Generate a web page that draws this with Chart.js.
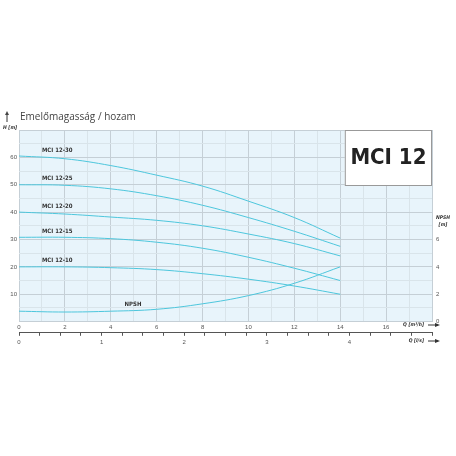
<!DOCTYPE html>
<html>
<head>
<meta charset="UTF-8">
<script src="https://cdn.jsdelivr.net/npm/chart.js"></script>
<style>
  body { margin: 0; background: #fff; }
  #wrap { width: 456px; height: 456px; position: relative; }
</style>
</head>
<body>
<div id="wrap"><canvas id="c"></canvas></div>
<script>
// Q in m3/h
const flow = [0, 2, 4, 6, 8, 10, 12, 14];
const mci1230 = [60.5, 59.5, 57, 53.5, 49.5, 44, 38, 30.5];
const mci1225 = [50, 49.8, 48.5, 46, 42.5, 38, 33, 27.5];
const mci1220 = [40, 39.3, 38.2, 37, 35, 32, 28.5, 24];
const mci1215 = [30.8, 30.8, 30.3, 29, 26.8, 23.5, 19.5, 15];
const mci1210 = [20, 20, 19.7, 19, 17.5, 15.5, 13, 10];
const npsh = [0.76, 0.7, 0.76, 0.9, 1.3, 1.9, 2.8, 4.0];
const curveNames = ['MCI 12-30', 'MCI 12-25', 'MCI 12-20', 'MCI 12-15', 'MCI 12-10'];
const hTicks = [10, 20, 30, 40, 50, 60];
const npshTicks = [0, 2, 4, 6];

const lineCol = '#4dc6dc';
const cond = '"DejaVu Sans Condensed", "DejaVu Sans"';
const pts = arr => flow.map((q, i) => ({ x: q, y: arr[i] }));
const mk = (label, arr, axis) => ({
  label, data: pts(arr), yAxisID: axis, borderColor: lineCol, borderWidth: 1,
  pointRadius: 0, tension: 0.4, fill: false
});

const datasets = [mci1230, mci1225, mci1220, mci1215, mci1210].map((a, i) => mk(curveNames[i], a, 'y'));
datasets.push(mk('NPSH', npsh, 'y2'));

const decor = {
  id: 'decor',
  beforeDraw(chart) {
    const { ctx, chartArea: a } = chart;
    ctx.save();
    ctx.fillStyle = '#e8f4fb';
    ctx.fillRect(a.left, a.top, a.right - a.left, a.bottom - a.top);
    ctx.restore();
  },
  afterDraw(chart) {
    const { ctx, chartArea: a, scales } = chart;
    const x = scales.x, y = scales.y, y2 = scales.y2;
    ctx.save();
    // box
    const bx = x.getPixelForValue(14.2), bw = a.right - bx;
    ctx.fillStyle = '#fff';
    ctx.strokeStyle = '#999';
    ctx.lineWidth = 1;
    ctx.fillRect(bx, a.top, bw, 55);
    ctx.strokeRect(bx + 0.5, a.top + 0.5, bw - 1, 55);
    ctx.fillStyle = '#222';
    ctx.font = 'bold 22px ' + cond;
    ctx.textAlign = 'center'; ctx.textBaseline = 'middle';
    ctx.fillText('MCI 12', bx + bw / 2, a.top + 28);
    // curve labels
    ctx.font = 'bold 6px ' + cond;
    ctx.textAlign = 'left'; ctx.textBaseline = 'bottom';
    ctx.fillStyle = '#333';
    [mci1230, mci1225, mci1220, mci1215, mci1210].forEach((arr, i) => {
      ctx.fillText(curveNames[i], x.getPixelForValue(1), y.getPixelForValue(arr[0]) - 3);
    });
    ctx.fillText('NPSH', x.getPixelForValue(4.6), y2.getPixelForValue(0.85) - 3);
    // title
    ctx.font = '10px "Open Sans"';
    ctx.fillStyle = '#444';
    ctx.textBaseline = 'middle';
    ctx.fillText('Emelőmagasság / hozam', 20, 117);
    ctx.strokeStyle = '#333';
    ctx.beginPath(); ctx.moveTo(7, 122); ctx.lineTo(7, 113); ctx.stroke();
    ctx.beginPath(); ctx.moveTo(5, 115); ctx.lineTo(7, 111); ctx.lineTo(9, 115); ctx.fill();
    ctx.font = 'italic bold 5px ' + cond;
    ctx.fillStyle = '#333';
    ctx.fillText('H [m]', 3, 128);
    ctx.textAlign = 'center';
    ctx.fillText('NPSH', 443, 218);
    ctx.fillText('[m]', 443, 225);
    ctx.textAlign = 'right';
    ctx.fillText('Q [m³/h]', 424, 325);
    ctx.fillText('Q [l/s]', 424, 341);
    // arrows
    [325, 341].forEach(yy => {
      ctx.beginPath(); ctx.moveTo(428, yy); ctx.lineTo(438, yy); ctx.stroke();
      ctx.beginPath(); ctx.moveTo(435, yy - 2); ctx.lineTo(440, yy); ctx.lineTo(435, yy + 2); ctx.fill();
    });
    ctx.restore();
  }
};

new Chart(document.getElementById('c'), {
  type: 'line',
  data: { datasets },
  plugins: [decor],
  options: {
    responsive: true, maintainAspectRatio: false, animation: false,
    layout: { padding: { left: 0, right: 0, top: 130, bottom: 107 } },
    plugins: { legend: { display: false }, tooltip: { enabled: false } },
    scales: {
      x: {
        type: 'linear', min: 0, max: 18,
        ticks: { stepSize: 1, padding: 2, font: { size: 6 }, color: '#555',
          callback: v => (v % 2 === 0 && v < 18) ? v : '' },
        grid: { color: c => c.tick && c.tick.value % 2 === 0 ? '#c5cfd6' : '#d9e4ea', tickLength: 0 },
        border: { display: false }
      },
      xl: {
        type: 'linear', position: 'bottom', min: 0, max: 5,
        ticks: { stepSize: 0.25, padding: 3, font: { size: 6 }, color: '#555',
          callback: v => (v % 1 === 0 && v < 5) ? v : '' },
        grid: { drawOnChartArea: false, tickLength: 3, color: '#555' },
        border: { display: true, color: '#555' }
      },
      y: {
        min: 0, max: 70,
        ticks: { stepSize: 5, padding: 2, font: { size: 6 }, color: '#555',
          callback: v => hTicks.includes(v) ? v : '' },
        grid: { color: c => c.tick && c.tick.value % 10 === 0 ? '#c5cfd6' : '#d9e4ea', tickLength: 0 },
        border: { display: false },
        afterFit: s => { s.width = 19; }
      },
      y2: {
        position: 'right', min: 0, max: 14,
        ticks: { stepSize: 1, padding: 4, font: { size: 6 }, color: '#555',
          callback: v => npshTicks.includes(v) ? v : '' },
        grid: { drawOnChartArea: false, tickLength: 0 },
        border: { display: false },
        afterFit: s => { s.width = 24; }
      }
    }
  }
});
</script>
</body>
</html>
